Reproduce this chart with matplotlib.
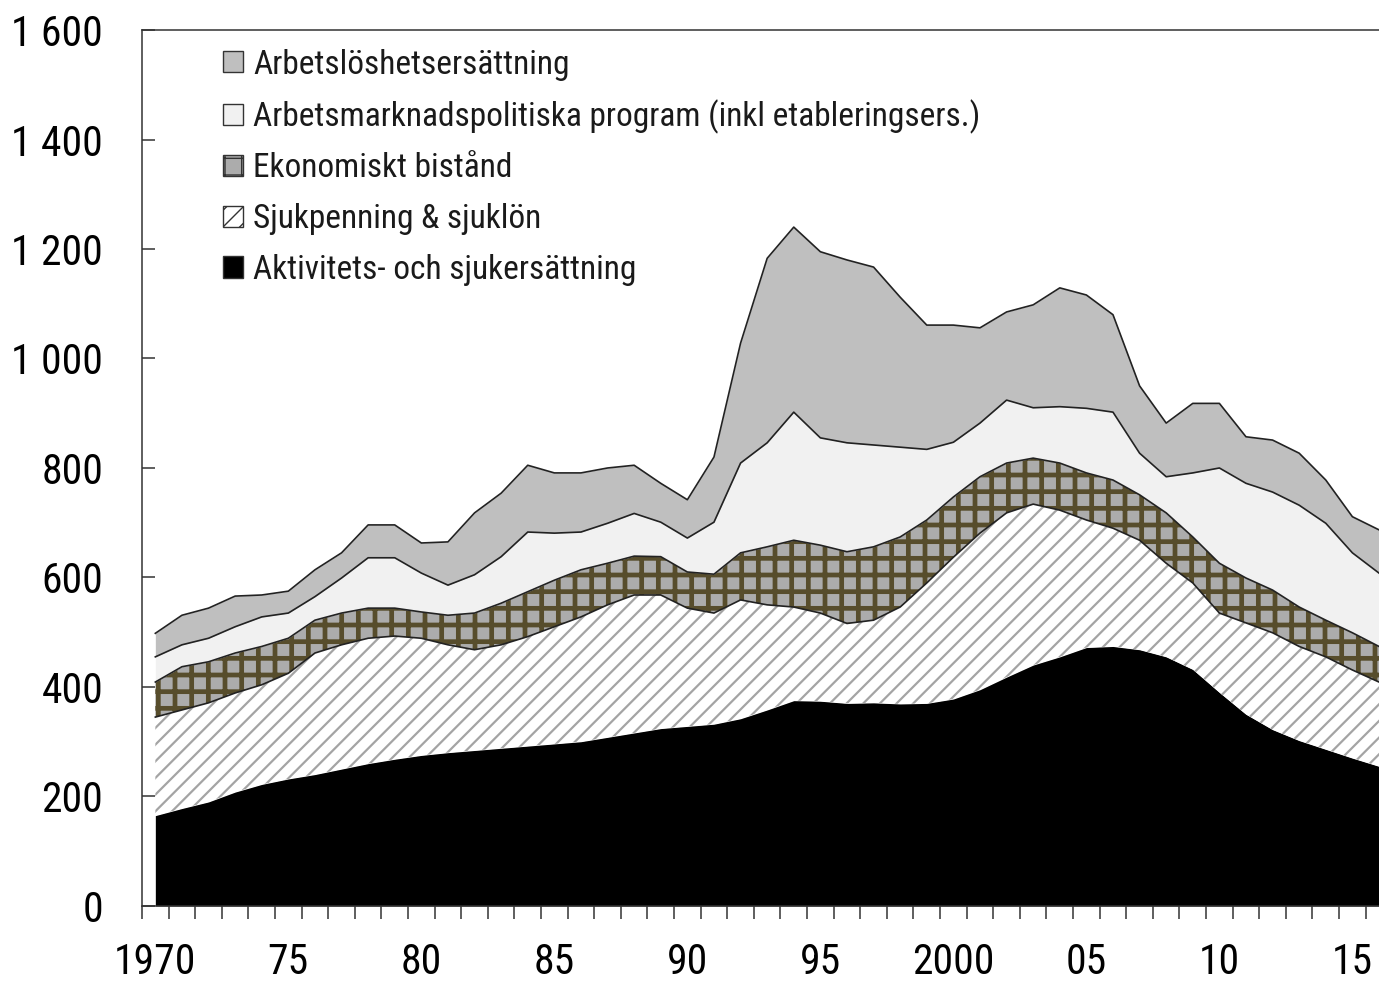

# Stacked area chart: ersättningar 1970-2016 (tusental helårsekvivalenter)

import numpy as np
import matplotlib
matplotlib.use("Agg")
import matplotlib.pyplot as plt
from matplotlib.patches import Patch

years = np.arange(1970, 2017)

aktivitet = [165, 178, 190, 208, 222, 232, 240, 250, 260, 268,
             275, 280, 284, 288, 292, 296, 300, 308, 316, 324,
             328, 332, 342, 358, 375, 374, 370, 371, 369, 370,
             378, 395, 418, 440, 455, 472, 474, 468, 455, 432,
             390, 350, 322, 302, 286, 270, 255]

sjuk = [180, 180, 181, 181, 182, 193, 222, 227, 229, 225,
        214, 197, 184, 189, 200, 214, 228, 242, 252, 244,
        216, 203, 217, 192, 171, 161, 146, 151, 177, 220,
        259, 286, 300, 294, 268, 233, 216, 200, 171, 158,
        145, 167, 177, 172, 169, 161, 154]

bistand = [64, 79, 75, 73, 70, 64, 60, 58, 55, 51,
           48, 54, 67, 76, 82, 85, 86, 76, 71, 70,
           66, 71, 86, 106, 122, 124, 131, 134, 128, 115,
           110, 103, 91, 84, 86, 86, 88, 83, 92, 84,
           91, 82, 78, 72, 67, 68, 65]

program = [46, 40, 43, 48, 54, 46, 43, 64, 92, 92,
           71, 55, 70, 85, 109, 86, 69, 73, 78, 63,
           62, 95, 164, 190, 234, 196, 199, 186, 164, 129,
           100, 98, 115, 92, 103, 118, 124, 76, 66, 117,
           174, 173, 179, 186, 177, 146, 134]

arbetsloshet = [43, 54, 55, 56, 40, 40, 49, 46, 60, 60,
                55, 79, 113, 116, 122, 110, 108, 101, 88, 71,
                70, 119, 219, 337, 338, 340, 334, 325, 274, 227,
                214, 174, 161, 188, 217, 207, 178, 123, 98, 127,
                118, 85, 95, 95, 79, 66, 79]

labels = ["Aktivitets- och sjukersättning",
          "Sjukpenning & sjuklön",
          "Ekonomiskt bistånd",
          "Arbetsmarknadspolitiska program (inkl etableringsers.)",
          "Arbetslöshetsersättning"]

tick_years = [1970, 1975, 1980, 1985, 1990, 1995, 2000, 2005, 2010, 2015]
tick_labels = ["1970", "75", "80", "85", "90", "95", "2000", "05", "10", "15"]

# condensed face like the original; missing families are skipped
plt.rcParams['font.family'] = ['Roboto Condensed', 'Barlow Condensed',
                               'Archivo Narrow', 'PT Sans Narrow', 'DejaVu Sans']
plt.rcParams['text.color'] = '#1a1a1a'

fig = plt.figure(figsize=(13.79, 9.81), dpi=100)
ax = fig.add_axes([0.103, 0.0765, 0.897, 0.8929])

series = [aktivitet, sjuk, bistand, program, arbetsloshet]
# face colour, hatch, hatch colour, hatch width
styles = [("black", None, "black", 1.0),
          ("white", "//", "#a4a4a4", 1.6),
          ("#acacac", "+", "#574d2c", 3.4),
          ("#f1f1f1", None, "#f1f1f1", 1.0),
          ("#bfbfbf", None, "#bfbfbf", 1.0)]

handles = []
bottom = np.zeros(len(years))
for vals, (fc, hatch, hc, hlw), lab in zip(series, styles, labels):
    top = bottom + np.array(vals)
    with plt.rc_context({'hatch.linewidth': hlw, 'hatch.color': hc}):
        coll = ax.fill_between(years, bottom, top, facecolor=fc, edgecolor=hc,
                               hatch=hatch, linewidth=0)
        h = Patch(facecolor=fc, edgecolor='#333333', hatch=hatch, linewidth=1.0)
    if hasattr(coll, 'set_hatch_linewidth'):
        coll.set_hatch_linewidth(hlw)
        h.set_hatch_linewidth(min(hlw, 1.2))
    handles.append(h)
    if fc != "black":
        ax.plot(years, top, color='#222222', linewidth=1.2)
    bottom = top

ax.set_xlim(1969.5, 2016.0)
ax.set_ylim(0, 1600)

ax.set_yticks(np.arange(0, 1601, 200))
ax.set_yticklabels(["0", "200", "400", "600", "800", "1 000", "1 200", "1 400", "1 600"])
ax.tick_params(axis='y', direction='in', length=9, width=1.1, color='#333333',
               labelsize=30, pad=28)

ax.set_xticks(tick_years)
ax.set_xticklabels(tick_labels)
ax.set_xticks(np.arange(1969.5, 2016.0, 1.0), minor=True)
ax.tick_params(axis='x', which='major', length=0, labelsize=30, pad=26)
ax.tick_params(axis='x', which='minor', direction='out', length=9, width=1.1,
               color='#333333')

for side in ['left', 'top', 'bottom']:
    ax.spines[side].set_color('#333333')
    ax.spines[side].set_linewidth(1.1)
ax.spines['right'].set_visible(False)

leg = ax.legend(handles[::-1], labels[::-1], loc='upper left',
                bbox_to_anchor=(0.055, 0.994), frameon=False, fontsize=24,
                handlelength=0.6, handleheight=0.6, handletextpad=0.3,
                labelspacing=0.56, borderaxespad=0)

fig.savefig("out.png", dpi=100)
